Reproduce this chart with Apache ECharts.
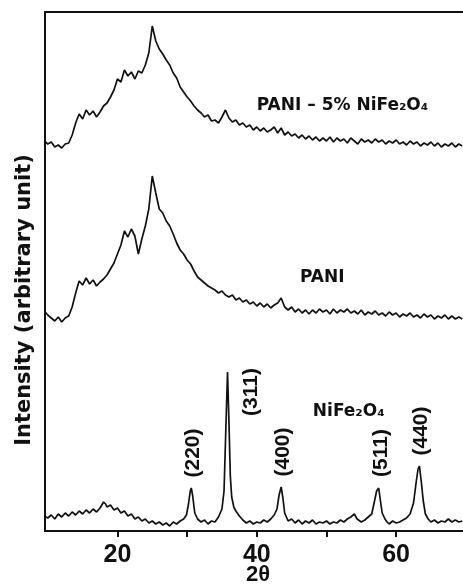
<!DOCTYPE html>
<html>
<head>
<meta charset="utf-8">
<script src="https://cdn.jsdelivr.net/npm/echarts@6/dist/echarts.min.js"></script>
<style>
  html, body { margin: 0; padding: 0; background: #fff; }
  #chart { width: 463px; height: 586px; }
</style>
</head>
<body>
<div id="chart"></div>
<script>
// 2-theta sampling of the two PANI patterns (deg)
const twoThetaStart = 9.5;
const twoThetaStep = 0.5;

// PANI - 5% NiFe2O4 (already shifted up, arbitrary units)
const composite = [
  390, 387, 389, 384, 386, 383, 387, 388, 396, 408,
  417, 412, 421, 416, 420, 414, 419, 425, 428, 434,
  441, 452, 449, 461, 455, 459, 452, 460, 458, 466,
  478, 505, 490, 482, 477, 471, 466, 458, 453, 444,
  439, 434, 430, 425, 421, 418, 414, 416, 410, 411,
  408, 414, 421, 413, 409, 411, 406, 408, 404, 406,
  401, 404, 400, 403, 399, 401, 404, 398, 403, 396,
  399, 395, 397, 393, 396, 392, 395, 391, 394, 390,
  393, 390, 394, 389, 393, 390, 392, 388, 393, 390,
  387, 392, 389, 391, 388, 392, 389, 391, 387, 390,
  388, 391, 387, 389, 386, 390, 387, 389, 385, 388,
  386, 389, 385, 388, 384, 387, 385, 388, 384, 387,
  385
];

// PANI (shifted up)
const pani = [
  220, 216, 213, 210, 214, 209, 213, 215, 224, 238,
  250, 246, 253, 247, 251, 245, 249, 252, 256, 262,
  268, 277, 286, 300, 294, 302, 295, 277, 292, 305,
  322, 355, 338, 322, 318, 310, 305, 297, 288, 281,
  277, 271, 267, 260, 254, 251, 248, 245, 243, 241,
  238, 240, 236, 234, 236, 231, 233, 229, 231, 227,
  229, 225, 228, 224, 227, 223, 226, 228, 233, 224,
  221, 224, 219, 222, 218, 221, 217, 221, 218, 222,
  219, 221, 217, 222, 218, 221, 219, 222, 218, 220,
  217, 221, 216, 219, 217, 220, 216, 218, 215, 219,
  216, 218, 214, 217, 215, 218, 214, 216, 213, 217,
  214, 216, 212, 215, 213, 216, 212, 215, 212, 214,
  212
];

// NiFe2O4 [2theta, intensity]
const nife2o4 = [
  [9.5, 15], [10, 13], [10.5, 16], [11, 12], [11.5, 17], [12, 14], [12.5, 18], [13, 15],
  [13.5, 19], [14, 16], [14.5, 20], [15, 17], [15.5, 21], [16, 18], [16.5, 22], [17, 19],
  [17.5, 23], [18, 29], [18.3, 27], [18.5, 24], [19, 26], [19.5, 21], [20, 23], [20.5, 18],
  [21, 20], [21.5, 15], [22, 17], [22.5, 12], [23, 14], [23.5, 10], [24, 12], [24.5, 8],
  [25, 10], [25.5, 7], [26, 9], [26.5, 6], [27, 8], [27.5, 5], [28, 9], [28.5, 7],
  [29, 10], [29.5, 12], [29.9, 16], [30.2, 27], [30.45, 40], [30.6, 43], [30.8, 35], [31.1, 18],
  [31.5, 12], [32, 9], [32.5, 11], [33, 7], [33.5, 10], [34, 9], [34.5, 14], [35, 22],
  [35.3, 40], [35.55, 100], [35.8, 159], [36.0, 110], [36.2, 55], [36.4, 34], [36.7, 24], [37, 20],
  [37.5, 15], [38, 11], [38.5, 8], [39, 10], [39.5, 7], [40, 9], [40.5, 8], [41, 11],
  [41.5, 9], [42, 12], [42.5, 16], [42.9, 22], [43.2, 36], [43.5, 44], [43.75, 33], [44.0, 18],
  [44.5, 10], [45, 12], [45.5, 8], [46, 11], [46.5, 7], [47, 10], [47.5, 8], [48, 11],
  [48.5, 7], [49, 9], [49.5, 8], [50, 10], [50.5, 7], [51, 9], [51.5, 8], [52, 11],
  [52.5, 9], [53, 12], [53.5, 14], [54, 17], [54.4, 12], [55, 9], [55.5, 11], [56, 14],
  [56.5, 17], [56.9, 30], [57.2, 40], [57.5, 43], [57.75, 30], [58.0, 18], [58.4, 12], [58.7, 9],
  [59, 7], [59.5, 10], [60, 8], [60.5, 9], [61, 11], [61.5, 13], [62, 17], [62.5, 28],
  [62.9, 50], [63.15, 62], [63.35, 65], [63.6, 50], [63.9, 30], [64.2, 17], [64.6, 12], [65, 9],
  [65.5, 11], [66, 8], [66.5, 10], [67, 9], [67.5, 12], [68, 9], [68.5, 11], [69, 9],
  [69.5, 10]
];

// reflections of the spinel
const hklLabels = ['(220)', '(311)', '(400)', '(511)', '(440)'];
const hklTwoTheta = [30.6, 35.8, 43.5, 57.5, 63.35];
const hklIntensity = [43, 159, 44, 43, 65];

const xTicks = [20, 30, 40, 50, 60];
const xTickLabels = [20, 40, 60];

function toPairs(values) {
  return values.map((v, i) => [twoThetaStart + i * twoThetaStep, v]);
}

var chartDom = document.getElementById('chart');
var myChart = echarts.init(chartDom, null, { renderer: 'canvas' });

var axisLine = { show: true, lineStyle: { color: '#111', width: 2 } };
var lineStyle = { color: '#111', width: 1.7 };

var option = {
  animation: false,
  backgroundColor: '#fff',
  grid: { left: 45, right: 0, top: 12, bottom: 55, containLabel: false, outerBoundsMode: 'none' },
  xAxis: [
    {
      type: 'value',
      min: 9.6,
      max: 69.6,
      axisLine: axisLine,
      axisTick: { show: true, customValues: xTicks, length: 6, inside: false, lineStyle: { color: '#111', width: 2 } },
      axisLabel: {
        customValues: xTickLabels,
        margin: 12,
        color: '#111',
        fontSize: 25,
        fontWeight: 'bold',
        fontFamily: 'Liberation Sans, Arial, sans-serif'
      },
      splitLine: { show: false },
      name: '2θ',
      nameLocation: 'middle',
      nameGap: 33,
      nameMoveOverlap: false,
      nameTextStyle: { color: '#111', fontSize: 22, fontWeight: 'bold', fontFamily: 'Liberation Sans, Arial, sans-serif', padding: [0, 0, 0, 8] }
    },
    {
      type: 'value',
      position: 'top',
      min: 9.6,
      max: 69.6,
      axisLine: axisLine,
      axisTick: { show: false },
      axisLabel: { show: false },
      splitLine: { show: false }
    }
  ],
  yAxis: {
    type: 'value',
    min: 0,
    max: 519,
    axisLine: axisLine,
    axisTick: { show: false },
    axisLabel: { show: false },
    splitLine: { show: false }
  },
  series: [
    { name: 'PANI - 5% NiFe2O4', type: 'line', data: toPairs(composite), showSymbol: false, lineStyle: lineStyle },
    { name: 'PANI', type: 'line', data: toPairs(pani), showSymbol: false, lineStyle: lineStyle },
    { name: 'NiFe2O4', type: 'line', data: nife2o4, showSymbol: false, lineStyle: lineStyle }
  ]
};

myChart.setOption(option);

// annotations placed from data coordinates
var phaseText = ['PANI – 5% NiFe₂O₄', 'PANI', 'NiFe₂O₄'];
var phaseAt = [[52.3, 425], [49.4, 253], [53.2, 119]];

var graphics = [];
var phaseFont = 'bold 17px "DejaVu Sans", sans-serif';
phaseText.forEach(function (t, i) {
  var p = myChart.convertToPixel({ gridIndex: 0 }, phaseAt[i]);
  graphics.push({
    type: 'text', x: p[0], y: p[1], silent: true,
    style: { text: t, font: phaseFont, fill: '#111', align: 'center', verticalAlign: 'middle' }
  });
});

hklLabels.forEach(function (t, i) {
  var p = myChart.convertToPixel({ gridIndex: 0 }, [hklTwoTheta[i], hklIntensity[i]]);
  var dx = 2, dy = -35;
  if (t === '(311)') { dx = 24; dy = 20; }
  graphics.push({
    type: 'text', x: p[0] + dx, y: p[1] + dy, rotation: Math.PI / 2, silent: true,
    style: { text: t, font: 'bold 21px "Liberation Sans", Arial, sans-serif', fill: '#111', align: 'center', verticalAlign: 'middle' }
  });
});

graphics.push({
  type: 'text', x: 25, y: 300, rotation: Math.PI / 2, silent: true,
  style: { text: 'Intensity (arbitrary unit)', font: 'bold 21px "DejaVu Sans", sans-serif', fill: '#111', align: 'center', verticalAlign: 'middle' }
});

myChart.setOption({ graphic: graphics });
</script>
</body>
</html>
